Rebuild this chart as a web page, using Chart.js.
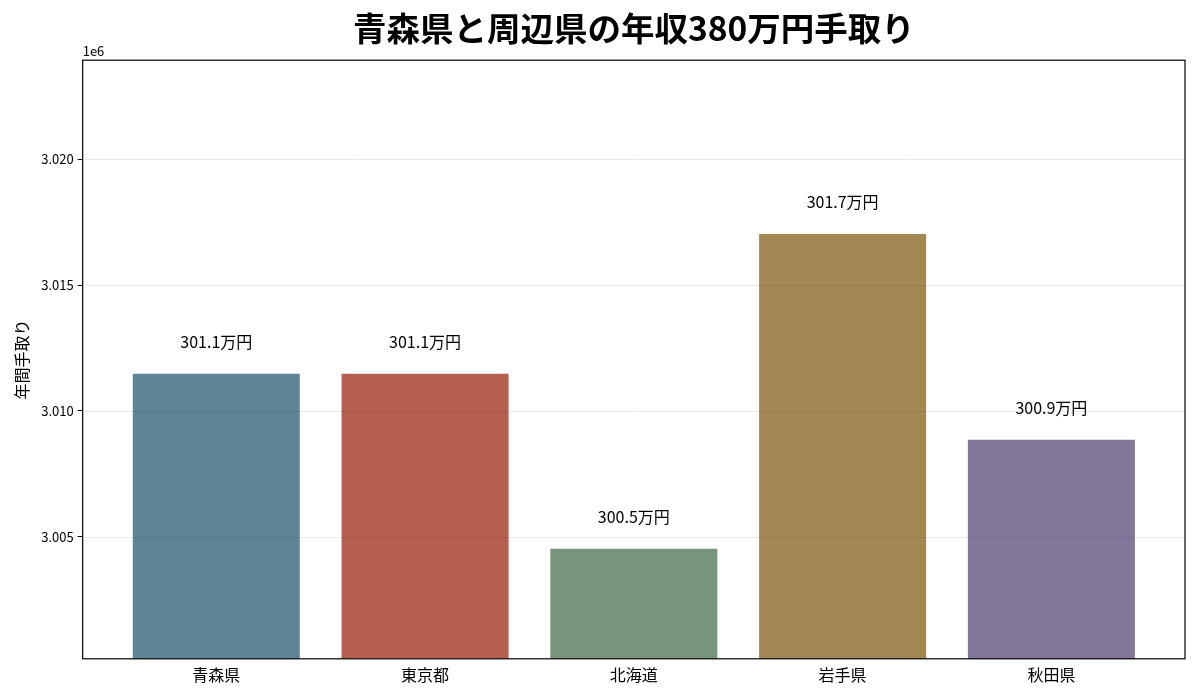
<!DOCTYPE html>
<html>
<head>
<meta charset="utf-8">
<script src="https://cdn.jsdelivr.net/npm/chart.js@4"></script>
<style>
  html, body { margin: 0; padding: 0; background: #fff; }
  #wrap { width: 1200px; height: 700px; }
</style>
</head>
<body>
<div id="wrap"><canvas id="incomeChart"></canvas></div>
<script>
const prefectures = ["青森県", "東京都", "北海道", "岩手県", "秋田県"];
const takeHome = [3011470, 3011470, 3004520, 3017030, 3008850];
const barColors = ["#5F8495", "#B5604F", "#78947A", "#A38855", "#82769B"];
const yTicks = [3005000, 3010000, 3015000, 3020000];

const FONT = "'Noto Sans CJK JP', 'Noto Sans', sans-serif";

// frame, grid on top, value labels, 1e6 offset text
const extras = {
    id: "extras",
    afterDatasetsDraw(chart) {
        const ctx = chart.ctx;
        const area = chart.chartArea;
        const y = chart.scales.y;
        ctx.save();
        ctx.strokeStyle = "rgba(0,0,0,0.08)";
        ctx.lineWidth = 1;
        yTicks.forEach(v => {
            const py = Math.round(y.getPixelForValue(v)) + 0.5;
            ctx.beginPath();
            ctx.moveTo(area.left, py);
            ctx.lineTo(area.right, py);
            ctx.stroke();
        });
        ctx.strokeStyle = "#000";
        ctx.lineWidth = 1.2;
        ctx.strokeRect(area.left, area.top, area.right - area.left, area.bottom - area.top);

        ctx.fillStyle = "#000";
        ctx.font = "16px " + FONT;
        ctx.textAlign = "center";
        ctx.textBaseline = "bottom";
        const meta = chart.getDatasetMeta(0);
        meta.data.forEach((bar, i) => {
            const label = (takeHome[i] / 10000).toFixed(1) + "万円";
            ctx.fillText(label, bar.x, bar.y - 24);
        });

        ctx.font = "13px " + FONT;
        ctx.textAlign = "left";
        ctx.textBaseline = "bottom";
        ctx.fillText("1e6", area.left, area.top - 3);
        ctx.restore();
    }
};

new Chart(document.getElementById("incomeChart").getContext("2d"), {
    type: "bar",
    data: {
        datasets: [{
            data: takeHome.map((v, i) => ({ x: i, y: v })),
            backgroundColor: barColors,
            borderWidth: 0,
            barPercentage: 0.8,
            categoryPercentage: 1.0
        }]
    },
    options: {
        responsive: true,
        maintainAspectRatio: false,
        animation: false,
        layout: { padding: { left: 12, right: 15, top: 8, bottom: 13 } },
        plugins: {
            legend: { display: false },
            tooltip: { enabled: false },
            title: {
                display: true,
                fullSize: false,
                text: "青森県と周辺県の年収380万円手取り",
                color: "#000",
                font: { family: FONT, size: 33.5, weight: "bold" },
                padding: { top: 0, bottom: 12 }
            }
        },
        scales: {
            x: {
                type: "linear",
                min: -0.64,
                max: 4.64,
                offset: false,
                afterBuildTicks(axis) {
                    axis.ticks = prefectures.map((p, i) => ({ value: i }));
                },
                grid: { display: false, drawTicks: true, tickLength: 5, tickColor: "#000" },
                border: { display: false },
                ticks: {
                    color: "#000",
                    font: { family: FONT, size: 16 },
                    padding: 2,
                    maxRotation: 0,
                    callback: v => prefectures[v]
                }
            },
            y: {
                min: 3000139,
                max: 3023944,
                afterBuildTicks(axis) {
                    axis.ticks = yTicks.map(v => ({ value: v }));
                },
                grid: { display: true, color: "rgba(0,0,0,0)", drawTicks: true, tickLength: 5, tickColor: "#000" },
                border: { display: false },
                title: {
                    display: true,
                    text: "年間手取り",
                    color: "#000",
                    font: { family: FONT, size: 16 },
                    padding: { top: 0, bottom: 6 }
                },
                ticks: {
                    color: "#000",
                    font: { family: FONT, size: 13 },
                    padding: 4,
                    callback: v => (v / 1e6).toFixed(3)
                }
            }
        }
    },
    plugins: [extras]
});
</script>
</body>
</html>
